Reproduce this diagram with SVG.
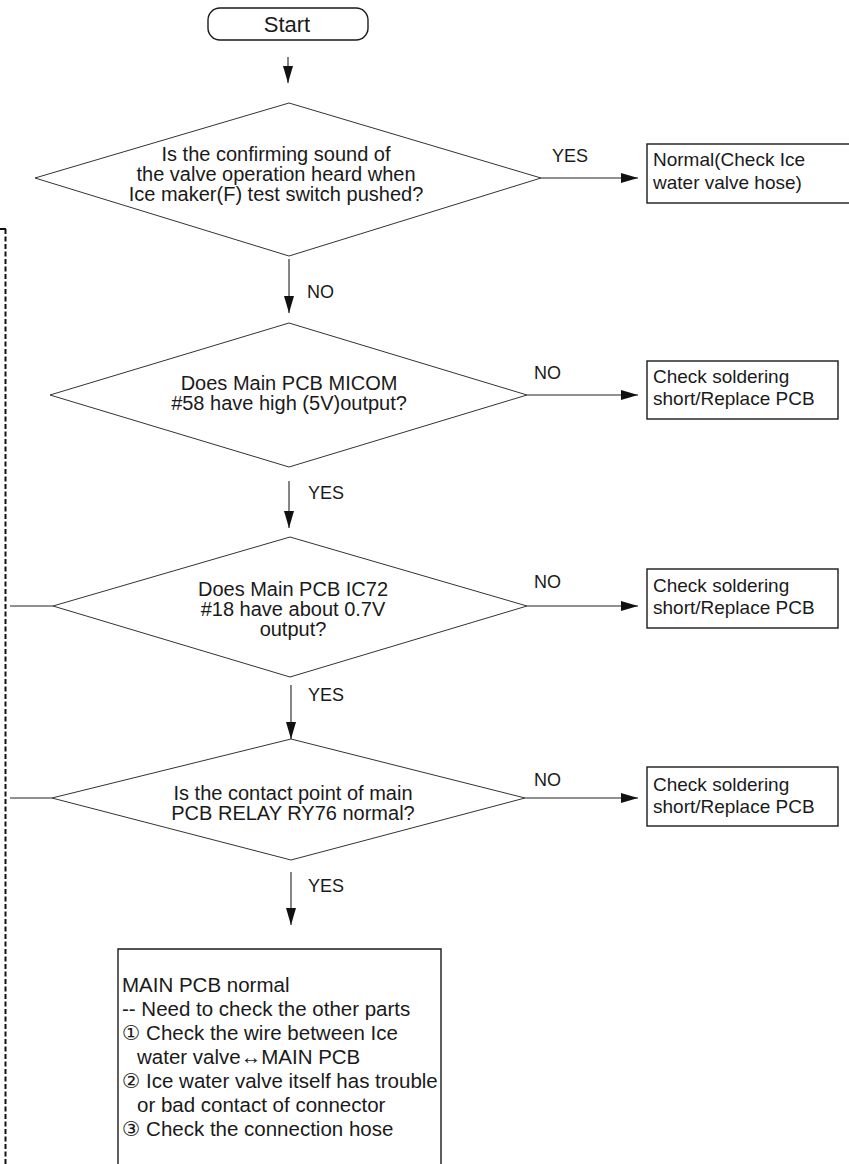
<svg xmlns="http://www.w3.org/2000/svg" width="849" height="1164" viewBox="0 0 849 1164">
<defs>
<marker id="ah" markerUnits="userSpaceOnUse" markerWidth="18" markerHeight="11" refX="17" refY="5" orient="auto">
<path d="M0,0 L17,5 L0,10 z" fill="#111"/>
</marker>
<style>
text{font-family:"Liberation Sans",Arial,"DejaVu Sans","Noto Sans CJK JP",sans-serif;fill:#1a1a1a}
.dia{fill:none;stroke:#333;stroke-width:1}
.box{fill:none;stroke:#1a1a1a;stroke-width:1.4}
.q{font-size:20px;text-anchor:middle}
.bt{font-size:19px}
.bb{font-size:20.5px}
.lab{font-size:18px}
.con{stroke:#222;stroke-width:1.1;fill:none}
.arr{marker-end:url(#ah)}
</style>
</defs>
<rect width="849" height="1164" fill="#fff"/>

<g id="dashed-frame">
<path d="M0,229 H6" stroke="#111" stroke-width="2" fill="none"/>
<path d="M5.5,229 V1164" stroke="#111" stroke-width="2" stroke-dasharray="5,2.5" fill="none"/>
</g>

<g id="start">
<rect x="208" y="8" width="160" height="32" rx="12" ry="12" class="box" stroke-width="1.1"/>
<text x="287" y="32" font-size="22" text-anchor="middle">Start</text>
</g>

<g id="d1">
<polygon points="289,103 541,178 289,256 35,178" class="dia"/>
<text class="q" x="276" y="161">Is the confirming sound of</text>
<text class="q" x="276" y="181">the valve operation heard when</text>
<text class="q" x="276" y="201">Ice maker(F) test switch pushed?</text>
</g>

<g id="b1">
<rect x="647" y="144" width="215" height="59" class="box"/>
<text class="bt" x="653" y="166">Normal(Check Ice</text>
<text class="bt" x="653" y="189">water valve hose)</text>
</g>

<g id="d2">
<polygon points="289,323 527,395 289,467 50,395" class="dia"/>
<text class="q" x="289" y="390">Does Main PCB MICOM</text>
<text class="q" x="289" y="410">#58 have high (5V)output?</text>
</g>

<g id="b2">
<rect x="647" y="361" width="191" height="58" class="box"/>
<text class="bt" x="653" y="383">Check soldering</text>
<text class="bt" x="653" y="405">short/Replace PCB</text>
</g>

<g id="d3">
<polygon points="290,537 527,606 290,677 53,606" class="dia"/>
<text class="q" x="293" y="596">Does Main PCB IC72</text>
<text class="q" x="293" y="616">#18 have about 0.7V</text>
<text class="q" x="293" y="636">output?</text>
</g>

<g id="b3">
<rect x="647" y="569" width="191" height="59" class="box"/>
<text class="bt" x="653" y="592">Check soldering</text>
<text class="bt" x="653" y="614">short/Replace PCB</text>
</g>

<g id="d4">
<polygon points="291,739 525,798 291,860 52,798" class="dia"/>
<text class="q" x="293" y="800">Is the contact point of main</text>
<text class="q" x="293" y="820">PCB RELAY RY76 normal?</text>
</g>

<g id="b4">
<rect x="647" y="767" width="191" height="59" class="box"/>
<text class="bt" x="653" y="791">Check soldering</text>
<text class="bt" x="653" y="813">short/Replace PCB</text>
</g>

<g id="b5">
<path d="M118,1170 V949 H441 V1170" class="box"/>
<text class="bb" x="122" y="992">MAIN PCB normal</text>
<text class="bb" x="122" y="1016">-- Need to check the other parts</text>
<text class="bb" x="122" y="1040">① Check the wire between Ice</text>
<text class="bb" x="137" y="1064">water valve↔MAIN PCB</text>
<text class="bb" x="122" y="1088">② Ice water valve itself has trouble</text>
<text class="bb" x="137" y="1112">or bad contact of connector</text>
<text class="bb" x="122" y="1136">③ Check the connection hose</text>
</g>

<g id="connectors">
<path class="con arr" d="M288,57 V83"/>
<path class="con arr" d="M541,178 H638"/>
<path class="con arr" d="M289,259 V313"/>
<path class="con arr" d="M527,395 H638"/>
<path class="con arr" d="M289,481 V528"/>
<path class="con arr" d="M527,606 H638"/>
<path class="con arr" d="M291,685 V739"/>
<path class="con arr" d="M525,798 H638"/>
<path class="con arr" d="M291,872 V925"/>
<path class="con" d="M10,606 H53"/>
<path class="con" d="M10,798 H52"/>
<text class="lab" x="552" y="162">YES</text>
<text class="lab" x="307" y="298">NO</text>
<text class="lab" x="534" y="379">NO</text>
<text class="lab" x="308" y="499">YES</text>
<text class="lab" x="534" y="588">NO</text>
<text class="lab" x="308" y="701">YES</text>
<text class="lab" x="534" y="786">NO</text>
<text class="lab" x="308" y="892">YES</text>
</g>
</svg>
